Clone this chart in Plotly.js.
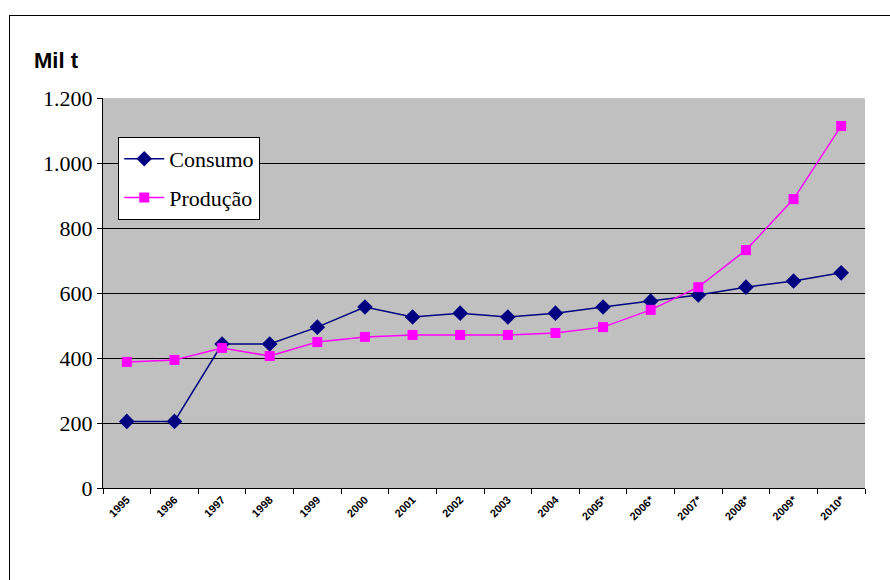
<!DOCTYPE html>
<html><head><meta charset="utf-8">
<script src="https://cdn.plot.ly/plotly-3.0.1.min.js"></script>
<style>body{margin:0;background:#fff}#c{width:890px;height:580px}
#frame{position:absolute;left:9px;top:15px;width:900px;height:600px;border:1px solid #000;pointer-events:none}</style>
</head><body><div id="c"></div><div id="frame"></div>
<script>
const years = ["1995","1996","1997","1998","1999","2000","2001","2002","2003","2004","2005*","2006*","2007*","2008*","2009*","2010*"];
const consumo = [205,205,443,443,495,557,526,538,526,538,557,575,594,618,637,662];
const producao = [388,394,431,406,449,465,471,471,471,477,495,548,618,732,889,1114];

const serif = "Liberation Serif";
const traces = [
 {x: years, y: consumo, name: "Consumo", legendgroup: "a", type: "scatter", mode: "lines+markers",
  line: {color: "#000080", width: 1.5}, marker: {symbol: "diamond", size: 12, color: "#000080"}},
 {x: years, y: producao, name: "Produção", legendgroup: "b", type: "scatter", mode: "lines+markers",
  line: {color: "#FF00FF", width: 1.5}, marker: {symbol: "square", size: 10, color: "#FF00FF"}}
];
const layout = {
 width: 890, height: 580,
 font: {family: serif, size: 22, color: "#000"},
 margin: {l: 103, r: 25, t: 98, b: 92},
 paper_bgcolor: "#fff", plot_bgcolor: "#c0c0c0",
 separators: ",.",
 showlegend: true,
 legend: {x: 0.02, y: 0.9, xanchor: "left", yanchor: "top", bgcolor: "#fff",
  bordercolor: "#000", borderwidth: 1, font: {family: serif, size: 22, color: "#000"},
  tracegroupgap: 7, traceorder: "grouped", itemwidth: 40},
 xaxis: {type: "category", tickson: "boundaries", ticks: "outside", ticklen: 5, tickcolor: "#000",
  showline: true, linecolor: "#000", linewidth: 1, showgrid: false, tickangle: -45,
  tickfont: {family: "Liberation Sans", size: 11, color: "#000", weight: "bold"}, range: [-0.5, 15.5]},
 yaxis: {range: [0, 1200], dtick: 200, tickformat: ",d", ticks: "outside", ticklen: 5, tickcolor: "#000",
  showline: true, linecolor: "#000", linewidth: 1, showgrid: true, gridcolor: "#000", gridwidth: 1,
  zeroline: false, tickfont: {family: "Liberation Serif", size: 22, color: "#000"}},
 annotations: [{text: "<b>Mil t</b>", xref: "paper", yref: "paper", x: -0.093, y: 1.06, xanchor: "left",
  yanchor: "bottom", showarrow: false, font: {family: "Liberation Sans", size: 22, color: "#000"}}]
};
Plotly.newPlot("c", traces, layout, {displayModeBar: false});
</script></body></html>
